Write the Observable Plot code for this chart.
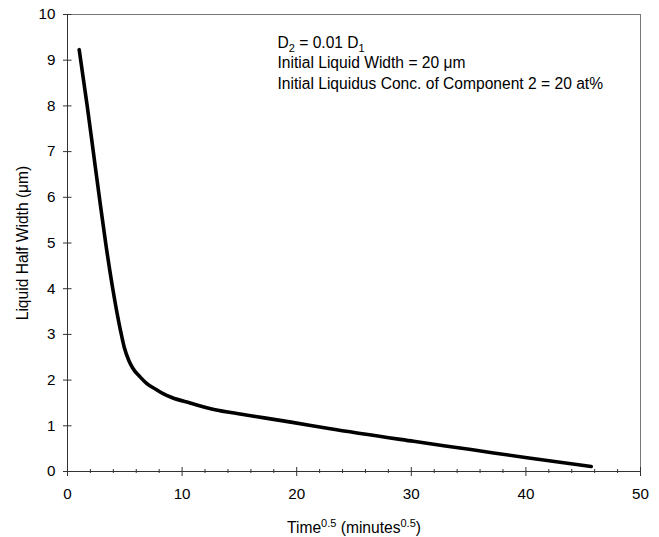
<!DOCTYPE html>
<html>
<head>
<meta charset="utf-8">
<script src="https://cdn.jsdelivr.net/npm/d3@7"></script>
<script src="https://cdn.jsdelivr.net/npm/@observablehq/plot@0.6"></script>
<style>
  html, body { margin: 0; padding: 0; background: #fff; }
</style>
</head>
<body>
<div id="chart"></div>
<script>
// ---- data ----
const timeSqrt = [1.02, 1.72, 2.25, 2.78, 3.33, 3.95, 4.62, 4.95, 5.35, 5.7, 6.37, 6.9, 7.7, 8.3, 9.1, 10.7, 12.5, 14.0, 16.0, 19.5, 22.8, 30.2, 35.2, 40.1, 45.7];
const halfWidth = [9.23, 8.0, 7.0, 6.0, 5.0, 4.0, 3.09, 2.72, 2.43, 2.26, 2.06, 1.93, 1.80, 1.71, 1.62, 1.50, 1.375, 1.30, 1.22, 1.08, 0.94, 0.66, 0.48, 0.30, 0.11];
const xMajorTicks = [0, 10, 20, 30, 40, 50];
const xMinorTicks = [2, 4, 6, 8, 12, 14, 16, 18, 22, 24, 26, 28, 32, 34, 36, 38, 42, 44, 46, 48];
const yTicks = [0, 1, 2, 3, 4, 5, 6, 7, 8, 9, 10];
const annotLines = [
  [["D", ""], ["2", "sub"], [" = 0.01 D", ""], ["1", "sub"]],
  [["Initial Liquid Width = 20 \u03bcm", ""]],
  [["Initial Liquidus Conc. of Component 2 = 20 at%", ""]]
];
const xLabelParts = [["Time", ""], ["0.5", "sup"], [" (minutes", ""], ["0.5", "sup"], [")", ""]];
const yLabel = "Liquid Half Width (\u03bcm)";

const data = timeSqrt.map((t, i) => ({t, w: halfWidth[i]}));
const plain = parts => parts.map(p => p[0]).join("");

const W = 659, H = 537;
const font = "'Liberation Sans', Arial, sans-serif";
const textSize = 15.6;

const plot = Plot.plot({
  width: W,
  height: H,
  marginLeft: 67,
  marginRight: 19,
  marginTop: 14,
  marginBottom: 66,
  style: {fontSize: "15.2px", fontFamily: font, color: "#000", background: "#fff"},
  x: {domain: [0, 50], label: null},
  y: {domain: [0, 10], label: null},
  marks: [
    Plot.frame({stroke: "#777", strokeWidth: 1}),
    Plot.ruleX([0], {stroke: "#333"}),
    Plot.ruleY([0], {stroke: "#333"}),
    Plot.axisX(xMinorTicks, {tickSize: 4, dy: -2, tickFormat: () => "", label: null, stroke: "#333"}),
    Plot.axisX(xMajorTicks, {tickSize: 9, dy: -4, tickPadding: 12, label: null, stroke: "#333", fill: "#000"}),
    Plot.axisY(yTicks, {tickSize: 8.5, dx: 4.5, tickPadding: 8, label: null, stroke: "#333", fill: "#000"}),
    Plot.line(data, {x: "t", y: "w", stroke: "#000", strokeWidth: 3.6, curve: "monotone-x"}),
    ...annotLines.map((parts, i) => Plot.text([plain(parts)], {
      frameAnchor: "top-left", dx: 210, dy: 33 + i * 20.5,
      textAnchor: "start", lineAnchor: "bottom", fill: "#000", fontSize: textSize
    })),
    Plot.text([plain(xLabelParts)], {
      frameAnchor: "bottom", dy: 61, textAnchor: "middle", lineAnchor: "bottom", fill: "#000", fontSize: textSize
    }),
    Plot.text([yLabel], {
      frameAnchor: "left", dx: -40, rotate: -90, textAnchor: "middle", lineAnchor: "bottom", fill: "#000", fontSize: textSize
    })
  ]
});

function richify(svg, parts) {
  const target = plain(parts);
  d3.select(svg).selectAll("text").filter(function() { return this.textContent === target; }).each(function() {
    const t = d3.select(this);
    t.selectAll("*").remove();
    t.text(null);
    let shift = 0;
    parts.forEach(([s, kind]) => {
      const want = kind === "sub" ? 4 : kind === "sup" ? -6 : 0;
      const ts = t.append("tspan").text(s).attr("dy", want - shift);
      if (kind) ts.attr("font-size", 11);
      shift = want;
    });
  });
}
annotLines.forEach(parts => richify(plot, parts));
richify(plot, xLabelParts);

document.getElementById("chart").appendChild(plot);
</script>
</body>
</html>
